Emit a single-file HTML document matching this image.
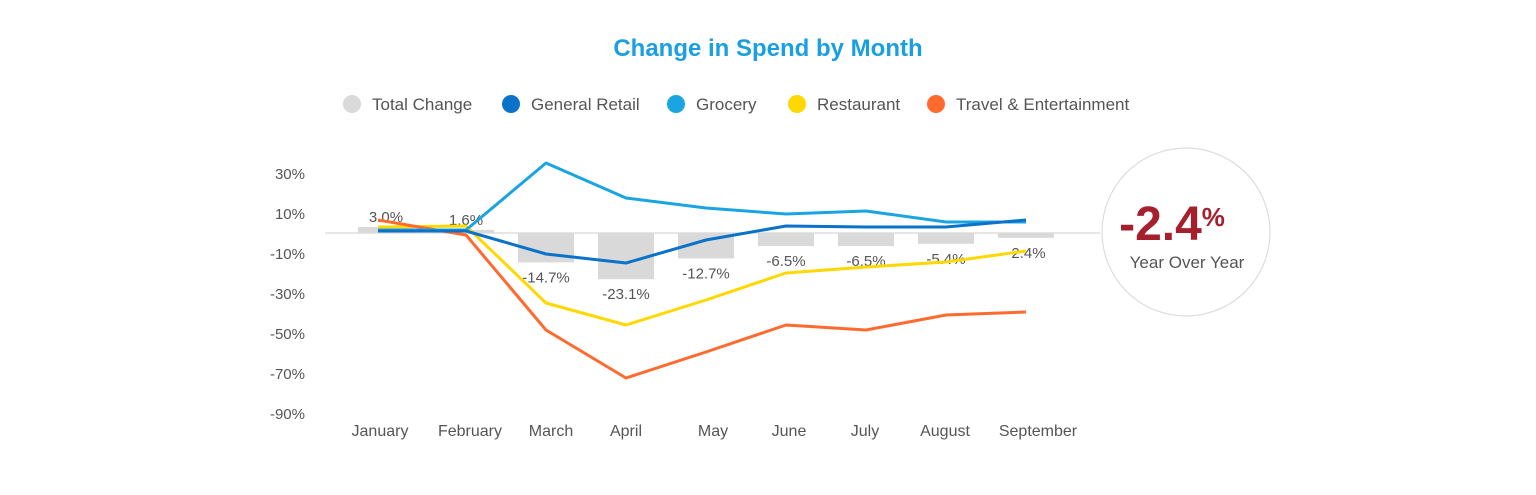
<!DOCTYPE html>
<html><head><meta charset="utf-8"><style>
body{margin:0;width:1536px;height:490px;background:#fff;font-family:"Liberation Sans",sans-serif;overflow:hidden}
</style></head><body>
<svg id="chart" width="1536" height="490" xmlns="http://www.w3.org/2000/svg" font-family="Liberation Sans, sans-serif">
<text x="768" y="56" text-anchor="middle" font-size="24" font-weight="bold" fill="#1a9fe0">Change in Spend by Month</text>
<g id="legend"></g>
<g id="yaxis"></g>
<line x1="325" x2="1100" y1="233" y2="233" stroke="#ddd" stroke-width="1.5"/>
<g id="bars"></g>
<g id="lines"></g>
<g id="xaxis"></g>
<g>
<circle cx="1186" cy="232" r="84" fill="#fff" stroke="#ddd" stroke-width="1.2"/>
<text x="1172" y="240" text-anchor="middle" font-size="48" font-weight="bold" fill="#a51f2d">-2.4<tspan font-size="26" dy="-14">%</tspan></text>
<text x="1187" y="268" text-anchor="middle" font-size="17" fill="#555">Year Over Year</text>
</g>
</svg>
<script>
const months=["January","February","March","April","May","June","July","August","September"];
const totalChange=[3.0,1.6,-14.7,-23.1,-12.7,-6.5,-6.5,-5.4,-2.4];
const generalRetail=[1,1,-10.5,-15,-3.5,3.5,3,3,6.5];
const grocery=[1.5,1.5,35,17.5,12.5,9.5,11,5.5,5.5];
const restaurant=[3,3.5,-35,-46,-33.5,-20,-17,-14.5,-9];
const travel=[6.5,-1,-48.5,-72.5,-59.5,-46,-48.5,-41,-39.5];
const yTicks=[30,10,-10,-30,-50,-70,-90];
const NS="http://www.w3.org/2000/svg";
const xs=i=>386+80*i;
const ys=v=>233-v*2;
function mk(t,a,p){const e=document.createElementNS(NS,t);for(const k in a)e.setAttribute(k,a[k]);p.appendChild(e);return e;}
const yaxis=document.getElementById('yaxis');
yTicks.forEach(v=>{const t=mk('text',{x:305,y:ys(v)+6,'text-anchor':'end','font-size':15,fill:'#555'},yaxis);t.textContent=v+'%';

});
const xaxis=document.getElementById('xaxis');
const xlab=[380,470,551,626,713,789,865,945,1038];
months.forEach((m,i)=>{const t=mk('text',{x:xlab[i]+(xs(i)-xs(i)),y:436,'text-anchor':'middle','font-size':16,fill:'#555'},xaxis);t.textContent=m;

});
const bars=document.getElementById('bars');
totalChange.forEach((v,i)=>{const y0=ys(0),y1=ys(v);const r=mk('rect',{x:xs(i)-28,y:Math.min(y0,y1),width:56,height:Math.abs(y1-y0),fill:'#d9d9d9'},bars);


const ty=v>=0?y1-5:y1+20;const t=mk('text',{x:xs(i),y:ty,'text-anchor':'middle','font-size':15,fill:'#555'},bars);t.textContent=v.toFixed(1)+'%';

});
const series=[["General Retail",generalRetail,"#0a72c9"],["Grocery",grocery,"#1aa4e2"],["Restaurant",restaurant,"#ffd800"],["Travel & Entertainment",travel,"#ff6a2f"]];
const lines=document.getElementById('lines');
[series[2],series[3],series[1],series[0]].forEach(s=>{const pts=s[1].map((v,i)=>(i==0?xs(i)-8:xs(i))+','+ys(v)).join(' ');
const p=mk('polyline',{points:pts,fill:'none',stroke:s[2],'stroke-width':3,'stroke-linejoin':'round'},lines);

});
const legend=document.getElementById('legend');
const leg=[["Total Change","#d9d9d9",352],["General Retail","#0a72c9",511],["Grocery","#1aa4e2",676],["Restaurant","#ffd800",797],["Travel & Entertainment","#ff6a2f",936]];
leg.forEach(l=>{const g=mk('g',{},legend);


mk('circle',{cx:l[2],cy:104,r:9,fill:l[1]},g);const t=mk('text',{x:l[2]+20,y:110,'font-size':17,fill:'#555'},g);t.textContent=l[0];});
</script>
</body></html>
